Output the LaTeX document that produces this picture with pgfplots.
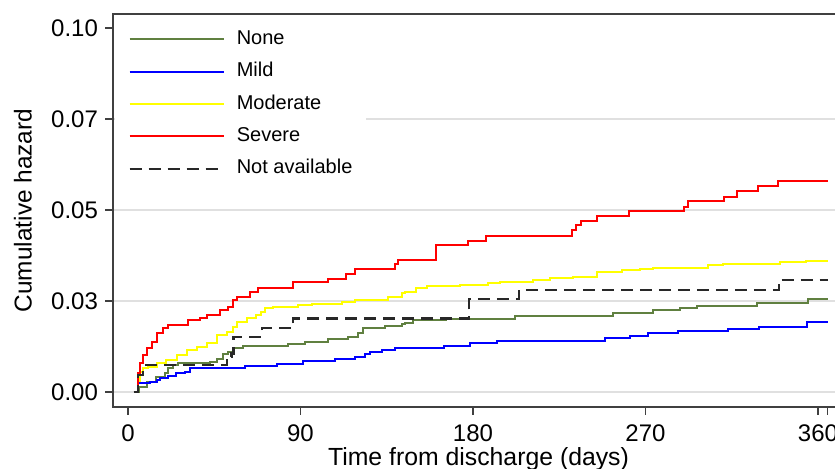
\documentclass[border=0pt]{standalone}
\usepackage{fontspec}
\setmainfont{Liberation Sans}
\usepackage{pgfplots}
\pgfplotsset{compat=1.18}

\definecolor{cNone}{RGB}{96,128,64}
\definecolor{cMild}{RGB}{0,0,255}
\definecolor{cMod}{RGB}{255,255,0}
\definecolor{cSev}{RGB}{255,0,0}
\definecolor{cNA}{RGB}{40,40,40}

\begin{document}
\begin{tikzpicture}
\begin{axis}[
  name=ax,
  scale only axis, width=365.5pt, height=196.5pt,
  xmin=-7.83, xmax=373.6, ymin=-0.00412, ymax=0.10385,
  axis line style={black!75, line width=1pt},
  tick align=outside, tick pos=left,
  major tick length=4pt,
  tick style={black!75, line width=0.8pt},
  xtick={0,90,180,270,360}, xticklabels={0,90,180,270,360},
  extra x ticks={365}, extra x tick labels={},
  ytick={0,0.025,0.05,0.075}, yticklabels={0.00,0.03,0.05,0.07},
  extra y ticks={0.1}, extra y tick labels={0.10},
  extra y tick style={grid=none},
  ymajorgrids, grid style={black!12, line width=1pt},
  /pgf/number format/assume math mode=true,
  ticklabel style={font=\fontsize{12}{14}\selectfont},
  xticklabel style={yshift=-1.5pt},
  xlabel={Time from discharge (days)},
  ylabel={Cumulative hazard},
  every axis x label/.style={at={(axis description cs:0.5,-0.148)}, anchor=base,
    font=\fontsize{12.4}{14}\selectfont},
  every axis y label/.style={at={(axis description cs:-0.1231,0.5)}, rotate=90, anchor=center,
    font=\fontsize{12.2}{14}\selectfont},
  legend cell align=left,
  legend image code/.code={\draw[#1] (0pt,0pt) -- (47pt,0pt); \path (53pt,0pt);},
  legend style={at={(axis description cs:0,1)}, anchor=north west,
    xshift=0.6pt, yshift=-0.6pt,
    draw=none, fill=white, font=\fontsize{10}{12}\selectfont,
    inner xsep=7pt, inner ysep=7.2pt, row sep=7pt,
    nodes={inner sep=0pt, text height=7.2pt, text depth=2pt}},
  every axis plot/.append style={line width=1pt, const plot},
]
\addplot[cNone] coordinates {
(3,0) (5.5,0.0015) (9.7,0.0028) (14.6,0.0042) (19.5,0.0051) (21,0.0065)
(23.5,0.0074) (26,0.0079) (43,0.0083) (46.2,0.0092) (49.7,0.0104) (52.3,0.0111)
(55,0.0120) (60.2,0.0126) (83.6,0.0132) (92.3,0.0138) (104.5,0.0145) (115,0.0152)
(120,0.0161) (122.8,0.0175) (134,0.0181) (142.8,0.0187) (144.6,0.0190) (148.8,0.0197)
(166,0.0200) (202,0.0210) (253,0.0216) (274,0.0225) (288,0.0232) (296.7,0.0236)
(328,0.0245) (354.9,0.0255) (365,0.0255)};
\addplot[cMild] coordinates {
(3,0) (5.4,0.0024) (11.5,0.0028) (15,0.0033) (16.7,0.0038) (21,0.0044)
(25.3,0.0051) (29.6,0.0056) (32.3,0.0065) (61,0.0071) (77.6,0.0078) (91.5,0.0084)
(108,0.0091) (118.4,0.0097) (123.6,0.0104) (126.2,0.0111) (132.3,0.0115) (139.3,0.0122)
(165,0.0126) (178.4,0.0134) (192.3,0.0141) (249,0.0147) (262,0.0154) (271.5,0.0161)
(287,0.0167) (313,0.0173) (329,0.0179) (354.1,0.0191) (365,0.0191)};
\addplot[cMod] coordinates {
(3,0) (5,0.0030) (6,0.0056) (8,0.0065) (10.3,0.0070) (15,0.0079) (20,0.0088)
(25.5,0.0102) (30.7,0.0115) (36,0.0124) (41,0.0134) (46.2,0.0157) (51.5,0.0166)
(55,0.0179) (56.7,0.0193) (62,0.0202) (67,0.0212) (69.4,0.0221) (71.7,0.0230)
(75.6,0.0234) (88.8,0.0239) (95.8,0.0243) (111.5,0.0248) (118.4,0.0253) (135.8,0.0262)
(142.8,0.0271) (144.6,0.0276) (150.5,0.0285) (155.8,0.0291) (173,0.0294) (188,0.0300)
(194,0.0303) (211.5,0.0308) (220,0.0312) (232.3,0.0317) (244.5,0.0329) (257.6,0.0335)
(267,0.0337) (274,0.0342) (302.4,0.0349) (310.5,0.0353) (340,0.0356) (354,0.0361)
(365,0.0361)};
\addplot[cSev] coordinates {
(3,0) (5,0.0051) (6.3,0.0079) (8,0.0102) (9.8,0.0120) (12.4,0.0138) (15,0.0161)
(18.4,0.0175) (21,0.0184) (31.5,0.0198) (37.6,0.0202) (41,0.0212) (48,0.0225)
(52.3,0.0234) (55,0.0253) (56.7,0.0262) (63.7,0.0276) (68,0.0286) (86.2,0.0302)
(104.5,0.0311) (114,0.0324) (118.4,0.0338) (139.3,0.0353) (141,0.0364) (160.5,0.0404)
(177.5,0.0416) (187,0.0429) (231.5,0.0445) (233.5,0.0459) (236.5,0.0471) (244.5,0.0484)
(261.5,0.0497) (290,0.0509) (292.3,0.0524) (311,0.0537) (318,0.0552) (328.8,0.0566)
(339,0.0581) (365,0.0581)};
\addplot[cNA, dash pattern=on 6pt off 3.5pt, line width=1.1pt] coordinates {
(3,0) (5.4,0.0047) (8,0.0074) (51.5,0.0097) (54,0.0106) (55,0.0152) (69.8,0.0175)
(86.2,0.0202) (178,0.0255) (204,0.0280) (339.8,0.0308) (365,0.0308)};
\legend{None,Mild,Moderate,Severe,Not available}
\end{axis}
\pgfresetboundingbox
\path[use as bounding box] ([xshift=-56.5pt,yshift=-31pt]ax.south west)
  rectangle ([xshift=361pt,yshift=203.5pt]ax.south west);
\end{tikzpicture}
\end{document}
